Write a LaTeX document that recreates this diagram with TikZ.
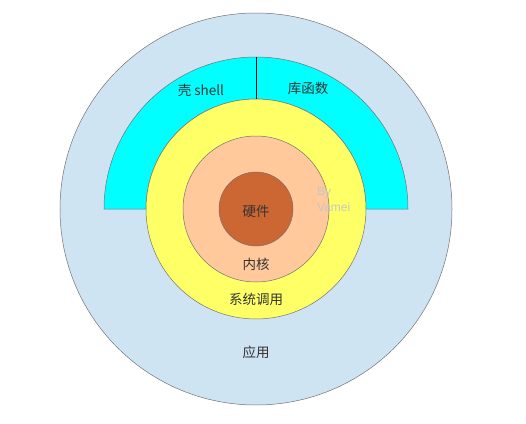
\documentclass[tikz,border=0pt]{standalone}
\usepackage{fontspec}
\setmainfont{Liberation Sans}
\newfontfamily\cjk{Noto Sans CJK SC}
\usetikzlibrary{positioning}
\definecolor{appblue}{HTML}{CFE4F2}
\definecolor{shellcyan}{HTML}{00FFFF}
\definecolor{callyellow}{HTML}{FFFF66}
\definecolor{kernelpeach}{HTML}{FFC99C}
\definecolor{hwbrown}{HTML}{CC6633}
\tikzset{x=1pt, y=1pt, layer/.style={draw=black!55, line width=0.5pt}, ring text/.style={font=\cjk\fontsize{13.5}{16}\selectfont, text=black!80, inner sep=0pt}, mark text/.style={font=\fontsize{12}{14}\selectfont, text=black!22, inner sep=0pt, anchor=west}}

\begin{document}
\begin{tikzpicture}
	\useasboundingbox[fill=white] (-256,-214) rectangle (270,209);
	\filldraw[layer, fill=appblue] (0,0) circle (196);
	\filldraw[layer, fill=shellcyan] (-152,0) arc (180:0:152) -- (110,0) arc (0:180:110) -- cycle;
	\draw[layer, draw=black] (0,110) -- (0,152);
	\filldraw[layer, fill=callyellow] (0,0) circle (110);
	\filldraw[layer, fill=kernelpeach] (0,0) circle (73);
	\filldraw[layer, fill=hwbrown] (0,0) circle (37);
	\node[ring text] (Shell) at (-55,119) {壳 shell};
	\node[ring text] (Lib) at (52,121) {库函数};
	\node[ring text] (Hardware) at (0,-2) {硬件};
	\node[ring text] (Kernel) at (0,-55) {内核};
	\node[ring text] (Syscall) at (0,-90) {系统调用};
	\node[ring text] (App) at (0,-143) {应用};
	\node[mark text] (By) at (61,16) {By};
	\node[mark text] (Vamei) at (61,2) {Vamei};
\end{tikzpicture}
\end{document}
